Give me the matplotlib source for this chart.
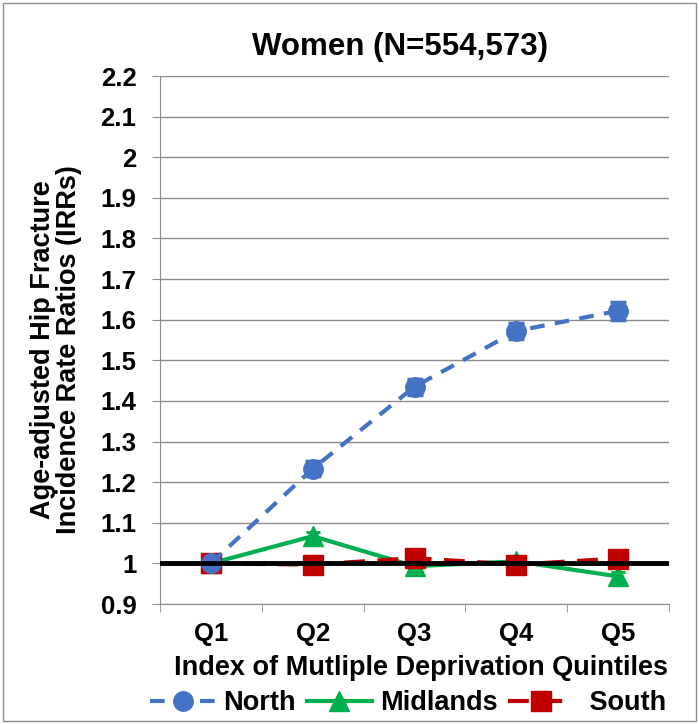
import numpy as np
import matplotlib
matplotlib.use("Agg")
import matplotlib.pyplot as plt
from matplotlib.patches import Rectangle
from matplotlib.lines import Line2D

# Datos
quintiles = ["Q1", "Q2", "Q3", "Q4", "Q5"]
north = [1.0, 1.233, 1.435, 1.572, 1.622]
north_err = [0.0, 0.018, 0.02, 0.02, 0.022]
midlands = [1.0, 1.067, 0.993, 1.005, 0.968]
midlands_err = [0.0, 0.01, 0.01, 0.01, 0.01]
south = [1.0, 0.997, 1.013, 0.997, 1.012]
south_err = [0.0, 0.01, 0.01, 0.01, 0.01]

BLUE = "#4472C4"
GREEN = "#00B050"
RED = "#C00000"
GRID = "#8c8c8c"

plt.rcParams["font.family"] = ["Liberation Sans", "DejaVu Sans"]
plt.rcParams["font.weight"] = "bold"

W, H = 699, 724
fig = plt.figure(figsize=(W / 100, H / 100), dpi=100)
ax = fig.add_axes([160 / W, 1 - 604 / H, 509 / W, 528 / H])

x = np.arange(1, len(quintiles) + 1)

north_ls = (0, (3.5, 2.5))
south_ls = (0, (5, 3))
ax.errorbar(x, north, yerr=north_err, color=BLUE, lw=3, ls=north_ls,
            marker="o", ms=14, capsize=6, capthick=2.5, elinewidth=2.5, zorder=4)
ax.errorbar(x, midlands, yerr=midlands_err, color=GREEN, lw=3, ls="-",
            marker="^", ms=14, capsize=5, capthick=2, elinewidth=2, zorder=3)
ax.errorbar(x, south, yerr=south_err, color=RED, lw=3, ls=south_ls,
            marker="s", ms=14, capsize=5, capthick=2, elinewidth=2, zorder=3)
ax.axhline(1.0, color="black", lw=3.5, zorder=5)

ax.set_xlim(0.5, 5.5)
ax.set_ylim(0.9, 2.2)
yt = np.round(np.arange(0.9, 2.21, 0.1), 1)
ax.set_yticks(yt)
ax.set_yticklabels([f"{v:g}" for v in yt], fontsize=18.5, fontweight="bold")
ax.set_xticks(x)
ax.set_xticklabels(quintiles, fontsize=18.5, fontweight="bold")
ax.set_xticks(np.arange(0.5, 5.6, 1.0), minor=True)
ax.tick_params(axis="x", which="major", length=0, pad=13)
ax.tick_params(axis="x", which="minor", length=6, color=GRID)
ax.tick_params(axis="y", length=6, color=GRID, pad=11)
ax.grid(axis="y", color=GRID, lw=1, zorder=0)

for s in ["top", "right"]:
    ax.spines[s].set_visible(False)
for s in ["left", "bottom"]:
    ax.spines[s].set_color(GRID)

fig.text(400 / W, 1 - 47 / H, "Women (N=554,573)", fontsize=22.5,
         fontweight="bold", ha="center", va="center")
fig.text(421 / W, 1 - 668 / H, "Index of Mutliple Deprivation Quintiles",
         fontsize=19.5, fontweight="bold", ha="center", va="center")
fig.text(56 / W, 1 - 350 / H, "Age-adjusted Hip Fracture\nIncidence Rate Ratios (IRRs)",
         fontsize=19.5, fontweight="bold", ha="center", va="center",
         rotation=90, linespacing=1.0)

handles = [
    Line2D([], [], color=BLUE, lw=3, ls=north_ls, marker="o", ms=14, label="North"),
    Line2D([], [], color=GREEN, lw=3, ls="-", marker="^", ms=14, label="Midlands"),
    Line2D([], [], color=RED, lw=3, ls=south_ls, marker="s", ms=14, label=" South"),
]
fig.legend(handles=handles, loc="center", bbox_to_anchor=(408 / W, 1 - 703 / H),
           ncol=3, frameon=False, fontsize=19.5, handlelength=2.4,
           columnspacing=0.4, handletextpad=0.3, borderpad=0)

fig.patches.append(Rectangle((0.004, 0.004), 0.992, 0.992, transform=fig.transFigure,
                             fill=False, edgecolor=GRID, lw=1))

fig.savefig("out.png", dpi=100)
